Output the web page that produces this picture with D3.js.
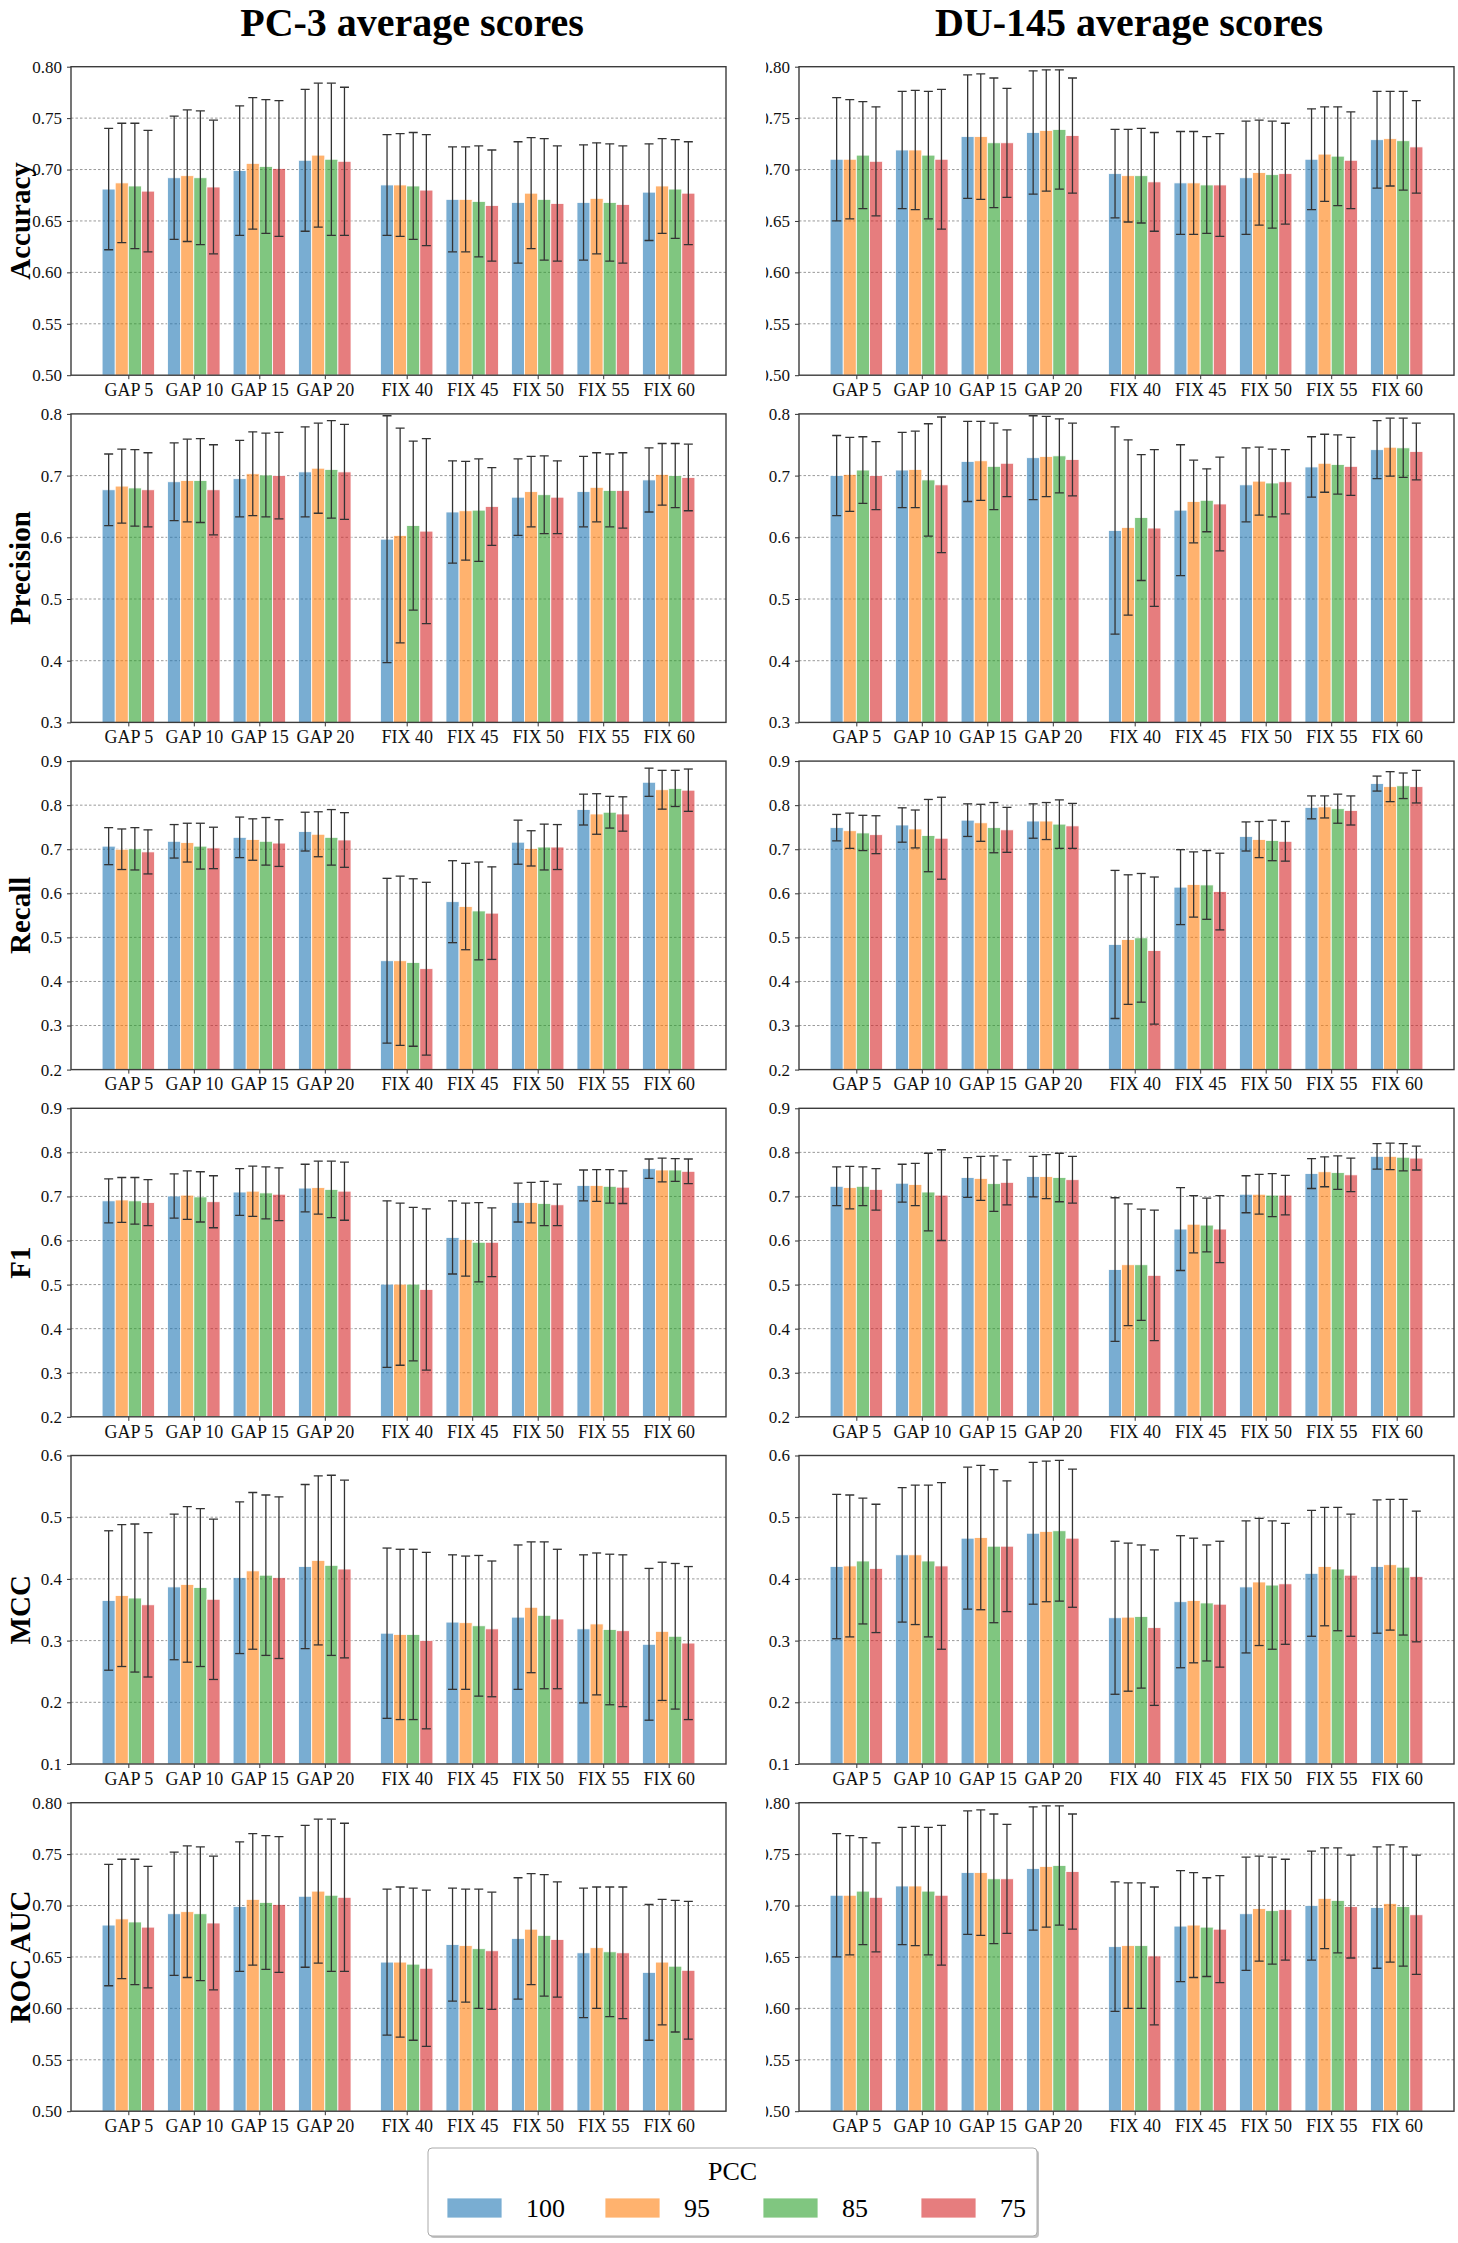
<!DOCTYPE html>
<html>
<head>
<meta charset="utf-8">
<script src="https://cdn.jsdelivr.net/npm/d3@7"></script>
<style>
  body { margin: 0; background: #fff; }
  svg { display: block; }
  text { font-family: "Liberation Serif", "Times New Roman", serif; }
</style>
</head>
<body>
<div id="chart"></div>
<script>
// categories / series
const categories = ["GAP 5", "GAP 10", "GAP 15", "GAP 20", "FIX 40", "FIX 45", "FIX 50", "FIX 55", "FIX 60"];
const pccLevels = ["100", "95", "85", "75"];
const pccColors = ["#1f77b4", "#ff7f0e", "#2ca02c", "#d62728"];
const cellLines = ["PC-3", "DU-145"];
const metrics = ["Accuracy", "Precision", "Recall", "F1", "MCC", "ROC AUC"];
const yDomains = [[0.5, 0.8], [0.3, 0.8], [0.2, 0.9], [0.2, 0.9], [0.1, 0.6], [0.5, 0.8]];
const yTickSteps = [0.05, 0.1, 0.1, 0.1, 0.1, 0.05];
const yTickFormats = [".2f", ".1f", ".1f", ".1f", ".1f", ".2f"];

// values: one row per category, one column per PCC level (100, 95, 85, 75)
const pc3AccuracyMean = [[0.681,0.687,0.684,0.679],[0.692,0.694,0.692,0.683],[0.699,0.706,0.703,0.701],[0.709,0.714,0.710,0.708],
  [0.685,0.685,0.684,0.680],[0.671,0.671,0.669,0.665],[0.668,0.677,0.671,0.667],[0.668,0.672,0.668,0.666],[0.678,0.684,0.681,0.677]];
const pc3AccuracyErr = [[0.059,0.058,0.061,0.059],[0.060,0.064,0.065,0.065],[0.063,0.064,0.065,0.066],[0.069,0.070,0.074,0.072],
  [0.049,0.050,0.052,0.054],[0.051,0.051,0.054,0.054],[0.059,0.054,0.059,0.056],[0.056,0.054,0.057,0.057],[0.047,0.046,0.048,0.050]];
const du145AccuracyMean = [[0.710,0.710,0.714,0.708],[0.719,0.719,0.714,0.710],[0.732,0.732,0.726,0.726],[0.736,0.738,0.739,0.733],
  [0.696,0.694,0.694,0.688],[0.687,0.687,0.685,0.685],[0.692,0.697,0.695,0.696],[0.710,0.715,0.713,0.709],[0.729,0.730,0.728,0.722]];
const du145AccuracyErr = [[0.060,0.058,0.052,0.053],[0.057,0.058,0.062,0.068],[0.060,0.061,0.063,0.053],[0.060,0.059,0.058,0.056],
  [0.043,0.045,0.046,0.048],[0.050,0.050,0.047,0.050],[0.055,0.051,0.052,0.049],[0.049,0.046,0.048,0.047],[0.047,0.046,0.048,0.045]];

const pc3PrecisionMean = [[0.677,0.683,0.680,0.677],[0.690,0.692,0.692,0.677],[0.695,0.703,0.701,0.700],[0.706,0.712,0.710,0.706],
  [0.597,0.603,0.619,0.610],[0.641,0.643,0.644,0.650],[0.665,0.674,0.669,0.665],[0.674,0.681,0.676,0.676],[0.693,0.702,0.700,0.697]];
const pc3PrecisionErr = [[0.058,0.060,0.062,0.060],[0.063,0.067,0.068,0.073],[0.062,0.068,0.068,0.070],[0.073,0.073,0.079,0.077],
  [0.200,0.174,0.137,0.150],[0.083,0.080,0.083,0.063],[0.062,0.057,0.063,0.059],[0.057,0.056,0.059,0.061],[0.052,0.050,0.052,0.054]];
const du145PrecisionMean = [[0.700,0.702,0.709,0.700],[0.709,0.710,0.693,0.685],[0.723,0.724,0.715,0.720],[0.729,0.731,0.732,0.726],
  [0.611,0.616,0.632,0.615],[0.644,0.658,0.660,0.654],[0.685,0.691,0.688,0.690],[0.714,0.720,0.718,0.715],[0.742,0.746,0.745,0.739]];
const du145PrecisionErr = [[0.065,0.060,0.054,0.055],[0.061,0.062,0.091,0.110],[0.065,0.064,0.070,0.054],[0.068,0.065,0.060,0.059],
  [0.168,0.142,0.102,0.127],[0.106,0.067,0.051,0.076],[0.060,0.055,0.055,0.052],[0.049,0.047,0.048,0.047],[0.047,0.047,0.048,0.046]];

const pc3RecallMean = [[0.707,0.700,0.701,0.694],[0.718,0.715,0.707,0.703],[0.727,0.722,0.718,0.714],[0.740,0.734,0.727,0.721],
  [0.447,0.447,0.443,0.429],[0.581,0.570,0.560,0.555],[0.716,0.702,0.705,0.705],[0.790,0.780,0.784,0.780],[0.852,0.835,0.838,0.834]];
const pc3RecallErr = [[0.042,0.046,0.048,0.050],[0.038,0.044,0.052,0.047],[0.046,0.047,0.054,0.053],[0.044,0.051,0.063,0.062],
  [0.187,0.192,0.190,0.196],[0.093,0.098,0.111,0.105],[0.050,0.040,0.052,0.051],[0.035,0.046,0.036,0.039],[0.032,0.044,0.041,0.048]];
const du145RecallMean = [[0.749,0.742,0.737,0.733],[0.755,0.746,0.731,0.725],[0.766,0.760,0.749,0.744],[0.764,0.764,0.757,0.753],
  [0.484,0.495,0.499,0.470],[0.614,0.620,0.619,0.604],[0.729,0.722,0.720,0.718],[0.795,0.796,0.792,0.788],[0.849,0.842,0.844,0.842]];
const du145RecallErr = [[0.030,0.040,0.040,0.043],[0.039,0.043,0.082,0.093],[0.037,0.042,0.057,0.051],[0.039,0.042,0.055,0.051],
  [0.168,0.147,0.146,0.167],[0.085,0.074,0.078,0.087],[0.033,0.041,0.046,0.045],[0.026,0.025,0.033,0.033],[0.017,0.034,0.029,0.037]];

const pc3F1Mean = [[0.690,0.692,0.690,0.686],[0.701,0.703,0.699,0.688],[0.710,0.712,0.708,0.705],[0.719,0.720,0.716,0.712],
  [0.501,0.501,0.501,0.489],[0.607,0.602,0.596,0.596],[0.686,0.686,0.684,0.681],[0.725,0.725,0.723,0.721],[0.763,0.760,0.760,0.757]];
const pc3F1Err = [[0.050,0.051,0.053,0.052],[0.050,0.055,0.057,0.059],[0.053,0.057,0.059,0.060],[0.054,0.060,0.064,0.066],
  [0.189,0.184,0.174,0.183],[0.083,0.083,0.090,0.078],[0.044,0.046,0.050,0.047],[0.035,0.036,0.038,0.037],[0.022,0.027,0.026,0.028]];
const du145F1Mean = [[0.723,0.720,0.723,0.716],[0.730,0.727,0.710,0.703],[0.743,0.741,0.729,0.732],[0.745,0.745,0.743,0.738],
  [0.534,0.545,0.545,0.521],[0.626,0.637,0.635,0.626],[0.705,0.705,0.703,0.703],[0.752,0.756,0.754,0.749],[0.791,0.791,0.789,0.787]];
const du145F1Err = [[0.044,0.048,0.044,0.047],[0.043,0.048,0.088,0.103],[0.045,0.050,0.063,0.051],[0.046,0.050,0.055,0.053],
  [0.163,0.138,0.126,0.148],[0.094,0.065,0.061,0.076],[0.042,0.045,0.049,0.045],[0.034,0.034,0.038,0.038],[0.029,0.030,0.031,0.027]];

const pc3MccMean = [[0.365,0.373,0.369,0.358],[0.387,0.391,0.386,0.367],[0.402,0.413,0.406,0.402],[0.420,0.430,0.422,0.416],
  [0.312,0.310,0.310,0.300],[0.330,0.329,0.324,0.319],[0.338,0.354,0.341,0.335],[0.319,0.327,0.318,0.316],[0.294,0.315,0.307,0.296]];
const pc3MccErr = [[0.113,0.115,0.120,0.117],[0.118,0.126,0.128,0.130],[0.123,0.127,0.130,0.131],[0.133,0.137,0.146,0.144],
  [0.138,0.138,0.138,0.143],[0.109,0.108,0.114,0.110],[0.117,0.106,0.119,0.113],[0.120,0.115,0.122,0.123],[0.123,0.112,0.118,0.124]];
const du145MccMean = [[0.420,0.421,0.429,0.417],[0.439,0.439,0.429,0.421],[0.466,0.467,0.453,0.453],[0.474,0.477,0.478,0.466],
  [0.337,0.338,0.339,0.321],[0.363,0.365,0.361,0.359],[0.387,0.395,0.390,0.392],[0.409,0.420,0.416,0.406],[0.420,0.423,0.419,0.404]];
const du145MccErr = [[0.117,0.115,0.102,0.104],[0.109,0.113,0.123,0.135],[0.115,0.117,0.124,0.106],[0.115,0.114,0.114,0.112],
  [0.124,0.120,0.116,0.126],[0.107,0.101,0.094,0.102],[0.107,0.103,0.104,0.098],[0.102,0.096,0.100,0.099],[0.108,0.106,0.110,0.106]];

const pc3RocAucMean = [[0.681,0.687,0.684,0.679],[0.692,0.694,0.692,0.683],[0.699,0.706,0.703,0.701],[0.709,0.714,0.710,0.708],
  [0.645,0.645,0.643,0.639],[0.662,0.661,0.658,0.656],[0.668,0.677,0.671,0.667],[0.654,0.659,0.655,0.654],[0.635,0.645,0.641,0.637]];
const pc3RocAucErr = [[0.059,0.058,0.061,0.059],[0.060,0.064,0.065,0.065],[0.063,0.064,0.065,0.066],[0.069,0.070,0.074,0.072],
  [0.071,0.073,0.074,0.076],[0.055,0.055,0.058,0.057],[0.059,0.054,0.059,0.056],[0.063,0.059,0.063,0.064],[0.066,0.061,0.064,0.067]];
const du145RocAucMean = [[0.710,0.710,0.714,0.708],[0.719,0.719,0.714,0.710],[0.732,0.732,0.726,0.726],[0.736,0.738,0.739,0.733],
  [0.660,0.661,0.661,0.651],[0.680,0.681,0.679,0.677],[0.692,0.697,0.695,0.696],[0.700,0.707,0.705,0.699],[0.698,0.702,0.699,0.691]];
const du145RocAucErr = [[0.060,0.058,0.052,0.053],[0.057,0.058,0.062,0.068],[0.060,0.061,0.063,0.053],[0.060,0.059,0.058,0.056],
  [0.063,0.061,0.061,0.067],[0.054,0.051,0.048,0.052],[0.055,0.051,0.052,0.049],[0.053,0.049,0.051,0.050],[0.059,0.057,0.058,0.058]];

//table of panels [row][col]
const panelMeans = [[pc3AccuracyMean, du145AccuracyMean], [pc3PrecisionMean, du145PrecisionMean], [pc3RecallMean, du145RecallMean],
  [pc3F1Mean, du145F1Mean], [pc3MccMean, du145MccMean], [pc3RocAucMean, du145RocAucMean]];
const panelErrs = [[pc3AccuracyErr, du145AccuracyErr], [pc3PrecisionErr, du145PrecisionErr], [pc3RecallErr, du145RecallErr],
  [pc3F1Err, du145F1Err], [pc3MccErr, du145MccErr], [pc3RocAucErr, du145RocAucErr]];

//layout
const W = 1458, H = 2243;
const colLeft = [71, 799], colTitleX = [412, 1129];
const pw = 655, ph = 308.5, rowTop = 66.7, rowStep = 347.2;
const font = '"Liberation Serif", "Times New Roman", serif';

const svg = d3.select("#chart").append("svg").attr("width", W).attr("height", H);
const defs = svg.append("defs");
// right column image was cropped at its left edge in the original figure
defs.append("clipPath").attr("id", "rightCrop").append("rect")
  .attr("x", 766).attr("y", 0).attr("width", W - 766).attr("height", H);
defs.append("clipPath").attr("id", "plotArea").append("rect")
  .attr("x", 0).attr("y", 0).attr("width", pw).attr("height", ph);

//group slot: extra gap between GAP and FIX
const slot = i => i + (i >= 4 ? 0.25 : 0);
const x = d3.scaleLinear().domain([-0.875, 9.125]).range([0, pw]);
const color = d3.scaleOrdinal().domain(pccLevels).range(pccColors);
const barW = 0.2;

cellLines.forEach((cell, c) => {
  const col = svg.append("g");
  if (c === 1) col.attr("clip-path", "url(#rightCrop)");

  col.append("text")
    .attr("x", colTitleX[c]).attr("y", 36)
    .attr("text-anchor", "middle")
    .style("font-size", "40px").style("font-weight", "bold")
    .text(cell + " average scores");

  metrics.forEach((metric, r) => {
    const top = rowTop + r * rowStep;
    const g = col.append("g").attr("transform", `translate(${colLeft[c]},${top})`);
    const [y0, y1] = yDomains[r];
    const y = d3.scaleLinear().domain([y0, y1]).range([ph, 0]);
    const ticks = d3.range(0, Math.round((y1 - y0) / yTickSteps[r]) + 1).map(k => +(y0 + k * yTickSteps[r]).toFixed(3));

    //grid
    g.append("g").selectAll("line").data(ticks.slice(1, -1)).enter().append("line")
      .attr("x1", 0).attr("x2", pw)
      .attr("y1", d => y(d)).attr("y2", d => y(d))
      .attr("stroke", "#9a9a9a").attr("stroke-width", 1).attr("stroke-dasharray", "2.5,2");

    const means = panelMeans[r][c], errs = panelErrs[r][c];
    const rows = [];
    means.forEach((m, i) => m.forEach((v, s) => rows.push({ i, s, v, e: errs[i][s] })));
    const xc = d => slot(d.i) + (d.s - 1.5) * barW;

    const plot = g.append("g").attr("clip-path", "url(#plotArea)");
    plot.selectAll("rect.bar").data(rows).enter().append("rect")
      .attr("class", "bar")
      .attr("x", d => x(xc(d) - barW / 2))
      .attr("width", x(barW) - x(0))
      .attr("y", d => y(d.v))
      .attr("height", d => ph - y(d.v))
      .attr("fill", d => color(pccLevels[d.s])).attr("fill-opacity", 0.6)
      .attr("stroke", "#fff").attr("stroke-width", 0.8);

    //error bars
    const eb = plot.selectAll("g.err").data(rows).enter().append("g").attr("class", "err")
      .attr("stroke", "#333").attr("stroke-width", 1.3);
    eb.append("line")
      .attr("x1", d => x(xc(d))).attr("x2", d => x(xc(d)))
      .attr("y1", d => y(d.v - d.e)).attr("y2", d => y(d.v + d.e));
    eb.append("line")
      .attr("x1", d => x(xc(d)) - 4.5).attr("x2", d => x(xc(d)) + 4.5)
      .attr("y1", d => y(d.v + d.e)).attr("y2", d => y(d.v + d.e));
    eb.append("line")
      .attr("x1", d => x(xc(d)) - 4.5).attr("x2", d => x(xc(d)) + 4.5)
      .attr("y1", d => y(d.v - d.e)).attr("y2", d => y(d.v - d.e));

    //axes
    const ya = g.append("g")
      .call(d3.axisLeft(y).tickValues(ticks).tickFormat(d3.format(yTickFormats[r])).tickSize(4).tickPadding(5));
    const xa = g.append("g").attr("transform", `translate(0,${ph})`)
      .call(d3.axisBottom(x).tickValues(categories.map((d, i) => slot(i))).tickFormat((d, i) => categories[i]).tickSize(4).tickPadding(4));
    [ya, xa].forEach(a => {
      a.select(".domain").remove();
      a.attr("font-family", font);
      a.selectAll("line").attr("stroke", "#333");
      a.selectAll("text").attr("fill", "#111");
    });
    ya.attr("font-size", 17);
    xa.attr("font-size", 18);

    g.append("rect").attr("width", pw).attr("height", ph)
      .attr("fill", "none").attr("stroke", "#3c3c3c").attr("stroke-width", 1.4);

    if (c === 0) {
      svg.append("text")
        .attr("transform", `translate(30,${top + ph / 2}) rotate(-90)`)
        .attr("text-anchor", "middle")
        .style("font-size", "29px").style("font-weight", "bold")
        .text(metric);
    }
  });
});

//legend
const lg = svg.append("g");
const lx = 428, ly = 2148, lw = 609, lh = 88;
lg.append("rect").attr("x", lx + 2).attr("y", ly + 2).attr("width", lw).attr("height", lh).attr("rx", 4)
  .attr("fill", "#777").attr("opacity", 0.45);
lg.append("rect").attr("x", lx).attr("y", ly).attr("width", lw).attr("height", lh).attr("rx", 4)
  .attr("fill", "#fff").attr("stroke", "#aaa").attr("stroke-width", 1);
lg.append("text").attr("x", lx + lw / 2).attr("y", ly + 32).attr("text-anchor", "middle")
  .style("font-size", "26px").text("PCC");
const items = lg.selectAll("g.item").data(pccLevels).enter().append("g").attr("class", "item")
  .attr("transform", (d, i) => `translate(${447 + i * 158},${ly + 50})`);
items.append("rect").attr("width", 55).attr("height", 20)
  .attr("fill", d => color(d)).attr("fill-opacity", 0.6).attr("stroke", "#fff").attr("stroke-width", 0.8);
items.append("text").attr("x", 79).attr("y", 19).style("font-size", "26px").text(d => d);
</script>
</body>
</html>
